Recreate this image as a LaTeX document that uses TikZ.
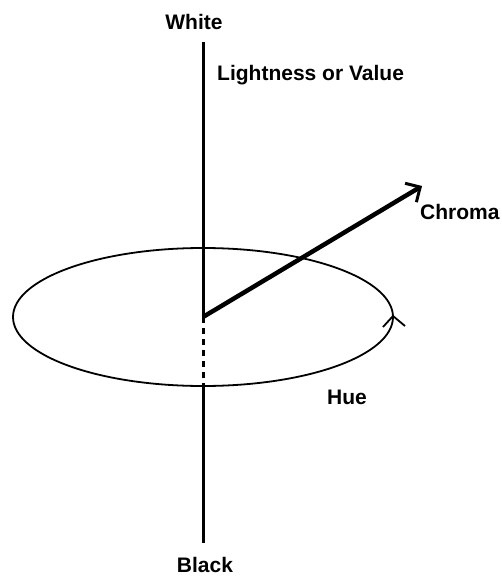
\documentclass[tikz,border=0pt]{standalone}
\usepackage{fontspec}
\setmainfont{Liberation Sans}
\usetikzlibrary{arrows.meta}
\begin{document}
\begin{tikzpicture}[x=1pt,y=-1pt,
  lbl/.style={font=\fontsize{21}{25}\selectfont\bfseries, inner sep=0pt},
  axis/.style={line width=3pt},
  hueline/.style={line width=1.8pt}]
\useasboundingbox (0,0) rectangle (502,578);
\coordinate (top) at (203,42);
\coordinate (c) at (203,317);
\coordinate (dend) at (203,386);
\coordinate (bot) at (203,543);
\coordinate (tip) at (422,186);
\node[lbl] (white) at (194,22) {White};
\node[lbl, anchor=west] (light) at (217,75) {Lightness or Value};
\node[lbl, anchor=west] (chroma) at (420,212) {Chroma};
\node[lbl, anchor=west] (hue) at (327,397) {Hue};
\node[lbl] (black) at (205,565) {Black};
% ellipse
\draw[hueline] (c) ellipse [x radius=190, y radius=69];
% hue arrowhead on right
\draw[hueline] (383,327) -- (393,316) -- (405,326);
% axis
\draw[axis] (top) -- (c);
\draw[axis, dash pattern=on 6pt off 5pt] (c) -- (dend);
\draw[axis] (dend) -- (bot);
% chroma arrow
\draw[line width=4.5pt, -{Straight Barb[length=11pt,width=22pt,line width=3pt]}] (c) -- (tip);
\end{tikzpicture}
\end{document}
